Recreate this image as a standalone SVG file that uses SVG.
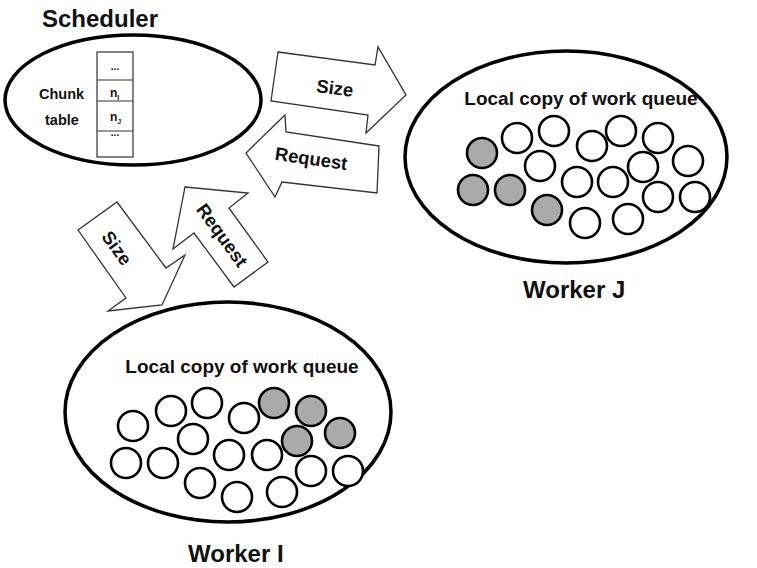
<svg xmlns="http://www.w3.org/2000/svg" width="757" height="568" viewBox="0 0 757 568">
<style>
text{font-family:"Liberation Sans",Arial,sans-serif;font-weight:bold;fill:#111}
.big{font-size:24px}
.lbl{font-size:18.5px;text-anchor:middle}
.q{font-size:19px;text-anchor:middle}
.ell{fill:#fff;stroke:#000;stroke-width:3.5}
.arr{fill:#fff;stroke:#333;stroke-width:1.3;stroke-linejoin:miter}
.c{fill:#fff;stroke:#000;stroke-width:2.6}
.g{fill:#aaa;stroke:#000;stroke-width:2.6}
.cell{fill:#fff;stroke:#333;stroke-width:1.2}
.sm{font-size:14.5px}
</style>
<rect width="757" height="568" fill="#fff"/>

<g id="scheduler">
<text class="big" x="42" y="27">Scheduler</text>
<ellipse class="ell" cx="133" cy="100" rx="128" ry="65"/>
<text class="sm" x="39" y="99">Chunk</text>
<text class="sm" x="45" y="125">table</text>
<g id="chunk-table">
<rect class="cell" x="97" y="52" width="36" height="105"/>
<line class="cell" x1="97" y1="80" x2="133" y2="80"/>
<line class="cell" x1="97" y1="101" x2="133" y2="101"/>
<line class="cell" x1="97" y1="131" x2="133" y2="131"/>
<text x="115" y="70" font-size="10" text-anchor="middle" font-weight="normal">...</text>
<text x="110" y="97" font-size="12">n<tspan font-size="7" dy="3">I</tspan></text>
<text x="110" y="121" font-size="12">n<tspan font-size="7" dy="3">J</tspan></text>
<text x="115" y="136" font-size="10" text-anchor="middle" font-weight="normal">...</text>
</g>
</g>

<g id="worker-j">
<ellipse class="ell" cx="566" cy="157" rx="161" ry="106" stroke-width="3"/>
<text class="q" x="581" y="105">Local copy of work queue</text>
<circle class="g" cx="482" cy="153" r="15"/>
<circle class="g" cx="473" cy="190" r="15"/>
<circle class="g" cx="510" cy="190" r="15"/>
<circle class="g" cx="547" cy="210" r="15"/>
<circle class="c" cx="517" cy="138" r="15"/>
<circle class="c" cx="554" cy="131" r="15"/>
<circle class="c" cx="592" cy="146" r="15"/>
<circle class="c" cx="621" cy="131" r="15"/>
<circle class="c" cx="658" cy="138" r="15"/>
<circle class="c" cx="540" cy="166" r="15"/>
<circle class="c" cx="577" cy="182" r="15"/>
<circle class="c" cx="613" cy="182" r="15"/>
<circle class="c" cx="643" cy="167" r="15"/>
<circle class="c" cx="688" cy="161" r="15"/>
<circle class="c" cx="658" cy="197" r="15"/>
<circle class="c" cx="695" cy="197" r="15"/>
<circle class="c" cx="585" cy="223" r="15"/>
<circle class="c" cx="628" cy="219" r="15"/>
<text class="big" x="523" y="298">Worker J</text>
</g>

<g id="worker-i">
<ellipse class="ell" cx="228" cy="412" rx="163" ry="110" stroke-width="3"/>
<text class="q" x="242" y="373">Local copy of work queue</text>
<circle class="c" cx="133" cy="426" r="15"/>
<circle class="c" cx="171" cy="411" r="15"/>
<circle class="c" cx="207" cy="403" r="15"/>
<circle class="c" cx="244" cy="418" r="15"/>
<circle class="c" cx="193" cy="439" r="15"/>
<circle class="c" cx="126" cy="463" r="15"/>
<circle class="c" cx="163" cy="463" r="15"/>
<circle class="c" cx="229" cy="455" r="15"/>
<circle class="c" cx="267" cy="455" r="15"/>
<circle class="c" cx="200" cy="483" r="15"/>
<circle class="c" cx="237" cy="497" r="15"/>
<circle class="c" cx="282" cy="492" r="15"/>
<circle class="c" cx="311" cy="471" r="15"/>
<circle class="c" cx="348" cy="471" r="15"/>
<circle class="g" cx="274" cy="403" r="15"/>
<circle class="g" cx="311" cy="411" r="15"/>
<circle class="g" cx="297" cy="441" r="15"/>
<circle class="g" cx="340" cy="433" r="15"/>
<text class="big" x="188" y="562">Worker I</text>
</g>

<g id="connectors">
<polygon class="arr" points="278,52 375,65 378,47 406,95 366,133 368,115 271,101"/>
<text class="lbl" transform="translate(335,88) rotate(7.5)" y="6.5">Size</text>
<polygon class="arr" points="379,146 286,132 285,115 246,153 275,197 282,182 377,193"/>
<text class="lbl" transform="translate(311,160) rotate(8)" y="5">Request</text>
<polygon class="arr" points="78,230 117,202 166,268 185,255 162,305 108,311 126,298"/>
<text class="lbl" transform="translate(117,248) rotate(54)" y="6.5">Size</text>
<polygon class="arr" points="185,187 248,193 229,208 268,262 234,287 194,233 173,249"/>
<text class="lbl" transform="translate(221,236) rotate(54)" y="5">Request</text>
</g>
</svg>
